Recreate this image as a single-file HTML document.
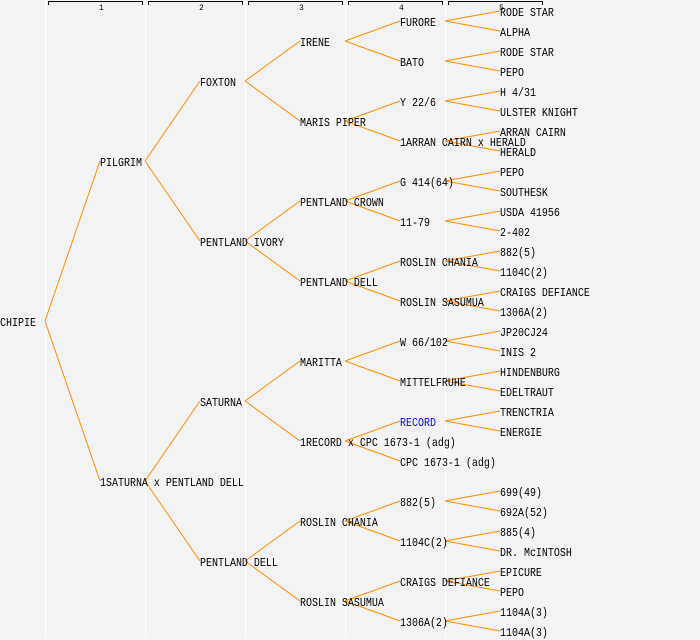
<!DOCTYPE html>
<html><head><meta charset="utf-8"><style>
html,body{margin:0;padding:0;background:#f3f3f3;}
svg{display:block;}
text{font-family:"Liberation Mono","DejaVu Sans Mono",monospace;font-size:12px;fill:#000;}
text.h{font-size:8px;}
</style></head><body>
<svg width="700" height="640" xmlns="http://www.w3.org/2000/svg">
<rect width="700" height="640" fill="#f3f3f3"/>
<g stroke="#ffffff" stroke-width="1">
<line x1="45.5" y1="0" x2="45.5" y2="638"/>
<line x1="145.5" y1="0" x2="145.5" y2="638"/>
<line x1="245.5" y1="0" x2="245.5" y2="638"/>
<line x1="345.5" y1="0" x2="345.5" y2="638"/>
<line x1="445.5" y1="0" x2="445.5" y2="638"/>
</g>
<g stroke="#000" stroke-width="1" fill="none">
<path d="M48.5 5V1.5H142.5V5"/>
<path d="M148.5 5V1.5H242.5V5"/>
<path d="M248.5 5V1.5H342.5V5"/>
<path d="M348.5 5V1.5H442.5V5"/>
<path d="M448.5 5V1.5H542.5V5"/>
</g>
<text class="h" x="99" y="10">1</text><text class="h" x="199" y="10">2</text><text class="h" x="299" y="10">3</text><text class="h" x="399" y="10">4</text><text class="h" x="499" y="10">5</text>
<g stroke="#ff8c00" stroke-width="1" fill="none">
<line x1="45" y1="321" x2="100" y2="161"/><line x1="45" y1="321" x2="100" y2="481"/>
<line x1="145" y1="161" x2="200" y2="81"/><line x1="145" y1="161" x2="200" y2="241"/>
<line x1="145" y1="481" x2="200" y2="401"/><line x1="145" y1="481" x2="200" y2="561"/>
<line x1="245" y1="81" x2="300" y2="41"/><line x1="245" y1="81" x2="300" y2="121"/>
<line x1="245" y1="241" x2="300" y2="201"/><line x1="245" y1="241" x2="300" y2="281"/>
<line x1="245" y1="401" x2="300" y2="361"/><line x1="245" y1="401" x2="300" y2="441"/>
<line x1="245" y1="561" x2="300" y2="521"/><line x1="245" y1="561" x2="300" y2="601"/>
<line x1="345" y1="41" x2="400" y2="21"/><line x1="345" y1="41" x2="400" y2="61"/>
<line x1="345" y1="121" x2="400" y2="101"/><line x1="345" y1="121" x2="400" y2="141"/>
<line x1="345" y1="201" x2="400" y2="181"/><line x1="345" y1="201" x2="400" y2="221"/>
<line x1="345" y1="281" x2="400" y2="261"/><line x1="345" y1="281" x2="400" y2="301"/>
<line x1="345" y1="361" x2="400" y2="341"/><line x1="345" y1="361" x2="400" y2="381"/>
<line x1="345" y1="441" x2="400" y2="421"/><line x1="345" y1="441" x2="400" y2="461"/>
<line x1="345" y1="521" x2="400" y2="501"/><line x1="345" y1="521" x2="400" y2="541"/>
<line x1="345" y1="601" x2="400" y2="581"/><line x1="345" y1="601" x2="400" y2="621"/>
<line x1="445" y1="21" x2="500" y2="11"/><line x1="445" y1="21" x2="500" y2="31"/>
<line x1="445" y1="61" x2="500" y2="51"/><line x1="445" y1="61" x2="500" y2="71"/>
<line x1="445" y1="101" x2="500" y2="91"/><line x1="445" y1="101" x2="500" y2="111"/>
<line x1="445" y1="141" x2="500" y2="131"/><line x1="445" y1="141" x2="500" y2="151"/>
<line x1="445" y1="181" x2="500" y2="171"/><line x1="445" y1="181" x2="500" y2="191"/>
<line x1="445" y1="221" x2="500" y2="211"/><line x1="445" y1="221" x2="500" y2="231"/>
<line x1="445" y1="261" x2="500" y2="251"/><line x1="445" y1="261" x2="500" y2="271"/>
<line x1="445" y1="301" x2="500" y2="291"/><line x1="445" y1="301" x2="500" y2="311"/>
<line x1="445" y1="341" x2="500" y2="331"/><line x1="445" y1="341" x2="500" y2="351"/>
<line x1="445" y1="381" x2="500" y2="371"/><line x1="445" y1="381" x2="500" y2="391"/>
<line x1="445" y1="421" x2="500" y2="411"/><line x1="445" y1="421" x2="500" y2="431"/>
<line x1="445" y1="501" x2="500" y2="491"/><line x1="445" y1="501" x2="500" y2="511"/>
<line x1="445" y1="541" x2="500" y2="531"/><line x1="445" y1="541" x2="500" y2="551"/>
<line x1="445" y1="581" x2="500" y2="571"/><line x1="445" y1="581" x2="500" y2="591"/>
<line x1="445" y1="621" x2="500" y2="611"/><line x1="445" y1="621" x2="500" y2="631"/>
</g>
<g transform="scale(0.8333 1)">
<text x="0" y="326">CHIPIE</text>
<text x="120" y="166">PILGRIM</text>
<text x="120" y="486">1SATURNA x PENTLAND DELL</text>
<text x="240" y="86">FOXTON</text>
<text x="240" y="246">PENTLAND IVORY</text>
<text x="240" y="406">SATURNA</text>
<text x="240" y="566">PENTLAND DELL</text>
<text x="360" y="46">IRENE</text>
<text x="360" y="126">MARIS PIPER</text>
<text x="360" y="206">PENTLAND CROWN</text>
<text x="360" y="286">PENTLAND DELL</text>
<text x="360" y="366">MARITTA</text>
<text x="360" y="446">1RECORD x CPC 1673-1 (adg)</text>
<text x="360" y="526">ROSLIN CHANIA</text>
<text x="360" y="606">ROSLIN SASUMUA</text>
<text x="480" y="26">FURORE</text>
<text x="480" y="66">BATO</text>
<text x="480" y="106">Y 22/6</text>
<text x="480" y="146">1ARRAN CAIRN x HERALD</text>
<text x="480" y="186">G 414(64)</text>
<text x="480" y="226">11-79</text>
<text x="480" y="266">ROSLIN CHANIA</text>
<text x="480" y="306">ROSLIN SASUMUA</text>
<text x="480" y="346">W 66/102</text>
<text x="480" y="386">MITTELFRUHE</text>
<text x="480" y="426" style="fill:#0000ff">RECORD</text>
<text x="480" y="466">CPC 1673-1 (adg)</text>
<text x="480" y="506">882(5)</text>
<text x="480" y="546">1104C(2)</text>
<text x="480" y="586">CRAIGS DEFIANCE</text>
<text x="480" y="626">1306A(2)</text>
<text x="600" y="16">RODE STAR</text>
<text x="600" y="36">ALPHA</text>
<text x="600" y="56">RODE STAR</text>
<text x="600" y="76">PEPO</text>
<text x="600" y="96">H 4/31</text>
<text x="600" y="116">ULSTER KNIGHT</text>
<text x="600" y="136">ARRAN CAIRN</text>
<text x="600" y="156">HERALD</text>
<text x="600" y="176">PEPO</text>
<text x="600" y="196">SOUTHESK</text>
<text x="600" y="216">USDA 41956</text>
<text x="600" y="236">2-402</text>
<text x="600" y="256">882(5)</text>
<text x="600" y="276">1104C(2)</text>
<text x="600" y="296">CRAIGS DEFIANCE</text>
<text x="600" y="316">1306A(2)</text>
<text x="600" y="336">JP20CJ24</text>
<text x="600" y="356">INIS 2</text>
<text x="600" y="376">HINDENBURG</text>
<text x="600" y="396">EDELTRAUT</text>
<text x="600" y="416">TRENCTRIA</text>
<text x="600" y="436">ENERGIE</text>
<text x="600" y="496">699(49)</text>
<text x="600" y="516">692A(52)</text>
<text x="600" y="536">885(4)</text>
<text x="600" y="556">DR. McINTOSH</text>
<text x="600" y="576">EPICURE</text>
<text x="600" y="596">PEPO</text>
<text x="600" y="616">1104A(3)</text>
<text x="600" y="636">1104A(3)</text>
</g>
</svg>
</body></html>
